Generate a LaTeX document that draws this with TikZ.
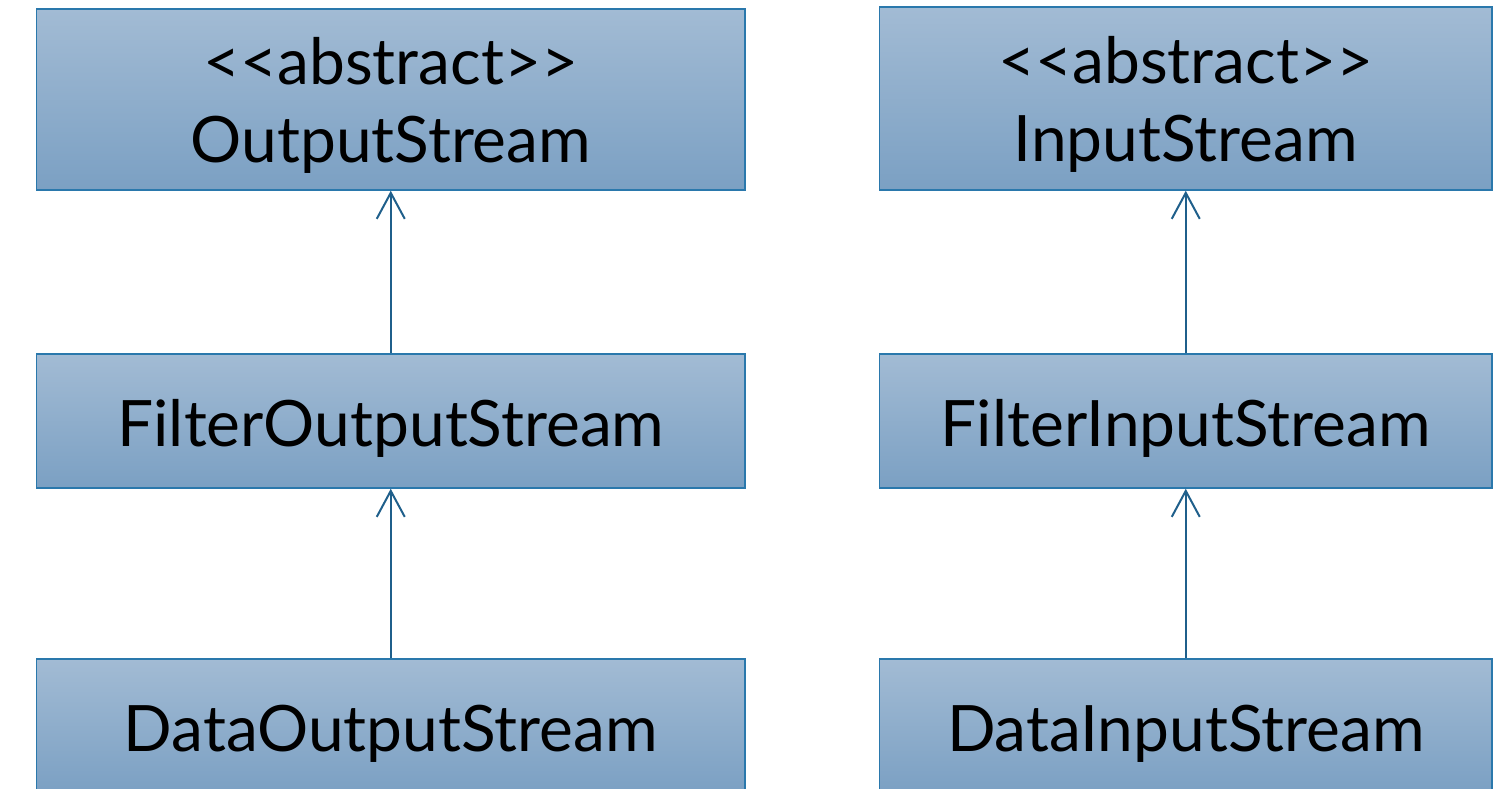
\documentclass[tikz,border=0pt]{standalone}
\usepackage{fontspec}
\setmainfont{Lato}
\usepackage{xcolor}
\usepackage{tikz}
\usetikzlibrary{arrows.meta}
\definecolor{boxtop}{HTML}{A2BBD4}
\definecolor{boxbot}{HTML}{7BA0C3}
\definecolor{boxline}{HTML}{2A78AC}
\definecolor{arrowline}{HTML}{1F5F8B}
\tikzset{
  cls/.style={draw=boxline, line width=1.5pt, top color=boxtop, bottom color=boxbot,
    inner sep=0pt, align=center, text height=61pt, font=\fontsize{64}{78}\selectfont},
  abstractcls/.style={cls, text height=137pt},
  inherit/.style={draw=arrowline, line width=2pt,
    -{Straight Barb[length=26pt,width=28pt,line width=2pt]}}
}

\begin{document}
\begin{tikzpicture}[x=1pt,y=-1pt]
  \useasboundingbox (0,0) rectangle (1503,788);
  % output side
  \node[abstractcls, minimum width=708.5pt, minimum height=181pt] (outs) at (390.75,99.5)
    {{<}{<}abstract{>}{>}\\OutputStream};
  \node[cls, minimum width=708.5pt, minimum height=134pt] (fouts) at (390.75,421)
    {FilterOutputStream};
  \node[cls, minimum width=708.5pt, minimum height=134pt] (douts) at (390.75,726)
    {DataOutputStream};
  % input side
  \node[abstractcls, minimum width=612.5pt, minimum height=183pt] (ins) at (1185.75,98.5)
    {{<}{<}abstract{>}{>}\\InputStream};
  \node[cls, minimum width=612.5pt, minimum height=134pt] (fins) at (1185.75,421)
    {FilterInputStream};
  \node[cls, minimum width=612.5pt, minimum height=134pt] (dins) at (1185.75,726)
    {DataInputStream};
  \draw[inherit] (fouts) -- (outs);
  \draw[inherit] (douts) -- (fouts);
  \draw[inherit] (fins) -- (ins);
  \draw[inherit] (dins) -- (fins);
\end{tikzpicture}
\end{document}
